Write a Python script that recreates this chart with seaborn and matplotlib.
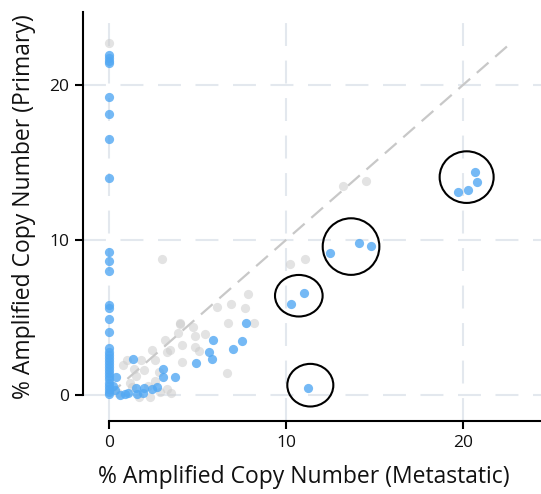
import matplotlib
matplotlib.use("Agg")
import matplotlib.pyplot as plt
from matplotlib.patches import Ellipse
import seaborn as sns
import pandas as pd

# ---- data: (% amplified metastatic, % amplified primary) ----
grey_x = [0.0, 3.0, 13.2, 14.5, 10.2, 11.07, 7.87, 6.9, 7.68, 6.08, 6.74, 8.2,
          4.76, 4.0, 3.92, 4.86, 4.86, 5.1, 4.1, 3.16, 3.26, 3.45, 4.1, 6.64,
          2.41, 2.6, 1.0, 1.8, 2.0, 1.5, 2.8, 2.3, 1.7, 3.5, 2.2, 1.2, 2.6,
          3.3, 0.5, 1.4, 2.9, 5.4, 4.0, 0.8, 1.3]
grey_y = [22.7, 8.8, 13.5, 13.8, 8.45, 8.75, 6.5, 5.87, 5.6, 5.7, 4.66, 4.66,
          4.4, 4.6, 3.98, 3.8, 3.1, 2.84, 3.2, 3.55, 2.8, 2.9, 2.15, 1.4,
          2.9, 2.26, 2.26, 2.26, 1.6, 1.2, 1.5, -0.1, -0.1, 0.1, 0.6, 0.8, 0.9,
          0.4, 0.1, 1.7, 0.2, 3.9, 4.66, 1.9, 0.5]

blue_x = [0, 0, 0, 0, 0, 0, 0, 0, 0, 0, 0, 0, 0, 0, 0, 0, 0, 0, 0, 0, 0, 0,
          0, 0, 0, 0, 0, 0, 0, 0, 0,
          20.7, 20.77, 20.3, 19.7, 14.1, 14.8, 12.5, 11.0, 10.28, 11.26,
          7.74, 7.5, 6.99, 5.9, 5.67, 5.82, 4.9, 3.75, 3.05, 3.07, 2.7, 2.0,
          1.5, 1.37, 1.1, 0.6, 0.35, 0.2, 0.4, 1.9, 1.6, 2.4, 0.9]
blue_y = [21.9, 21.75, 21.55, 21.4, 19.2, 18.1, 16.5, 14.0, 9.25, 8.65, 8.0,
          5.8, 5.6, 4.88, 4.08, 3.0, 2.8, 2.6, 2.4, 2.2, 2.0, 1.8, 1.6, 1.4,
          1.2, 1.0, 0.8, 0.6, 0.4, 0.2, 0.05,
          14.4, 13.76, 13.2, 13.08, 9.83, 9.6, 9.14, 6.56, 5.87, 0.43,
          4.66, 3.48, 2.97, 3.53, 2.8, 2.3, 2.04, 1.18, 1.65, 1.14, 0.54, 0.45,
          0.45, 2.3, 0.1, 0.0, 0.3, 0.6, 1.18, 0.1, 0.05, 0.4, 0.05]

# highlighted groups (centre x, centre y, width, height)
callout_cx = [20.2, 13.67, 10.72, 11.37]
callout_cy = [14.05, 9.57, 6.4, 0.63]
callout_w = [3.05, 3.2, 2.69, 2.6]
callout_h = [3.33, 3.65, 2.68, 2.75]

ticks = [0, 10, 20]
x_label = "% Amplified Copy Number (Metastatic)"
y_label = "% Amplified Copy Number (Primary)"

grey_df = pd.DataFrame({"met": grey_x, "prim": grey_y})
blue_df = pd.DataFrame({"met": blue_x, "prim": blue_y})

sns.set_theme(style="white")
plt.rcParams["font.family"] = ["Open Sans", "DejaVu Sans"]

fig = plt.figure(figsize=(5.41, 4.94), dpi=100)
ax = fig.add_axes([83 / 541, 1 - 421 / 494, 1 - 83 / 541, (421 - 12) / 494])

xmin, xmax = -1.47, 24.4
ymin, ymax = -1.68, 24.7
ax.set_xlim(xmin, xmax)
ax.set_ylim(ymin, ymax)

ax.set_axisbelow(True)
ax.grid(True, color="#e3e8ee", linestyle=(0, (11, 7)), linewidth=1.5)

ax.plot([0, 22.5], [0, 22.5], color="#c8c8c8", linestyle=(0, (7, 4)),
        linewidth=1.6, zorder=1.5)

sns.scatterplot(data=grey_df, x="met", y="prim", ax=ax, color="#cccccc",
                alpha=0.55, s=44, linewidth=0, zorder=2)
sns.scatterplot(data=blue_df, x="met", y="prim", ax=ax, color="#52a8f3",
                alpha=0.8, s=44, linewidth=0, zorder=3)

for cx, cy, w, h in zip(callout_cx, callout_cy, callout_w, callout_h):
    ax.add_patch(Ellipse((cx, cy), w, h, fill=False, edgecolor="black",
                         linewidth=1.5, zorder=4))

for side in ["top", "right"]:
    ax.spines[side].set_visible(False)
ax.spines["left"].set_linewidth(1.5)
ax.spines["bottom"].set_linewidth(1.5)
ax.spines["left"].set_color("black")
ax.spines["bottom"].set_color("black")
ax.spines["left"].set_bounds(0, ymax)
ax.spines["bottom"].set_bounds(0, xmax)

ax.set_xticks(ticks)
ax.set_yticks(ticks)
ax.set_xticklabels([str(t) for t in ticks])
ax.set_yticklabels([str(t) for t in ticks])
ax.tick_params(axis="both", which="major", length=6, width=1.5, color="black",
               labelsize=12.5, labelcolor="#111111", pad=4)
ax.tick_params(axis="both", bottom=True, left=True)

ax.set_xlabel(x_label, fontsize=16.5, color="#111111")
ax.set_ylabel(y_label, fontsize=16.5, color="#111111")
ax.xaxis.set_label_coords((304 - 83) / (541 - 83), -0.108)
ax.yaxis.label.set_va("center")
ax.yaxis.set_label_coords((24 - 83) / (541 - 83), (421 - 207) / 409)

fig.savefig("out.png", dpi=100)
